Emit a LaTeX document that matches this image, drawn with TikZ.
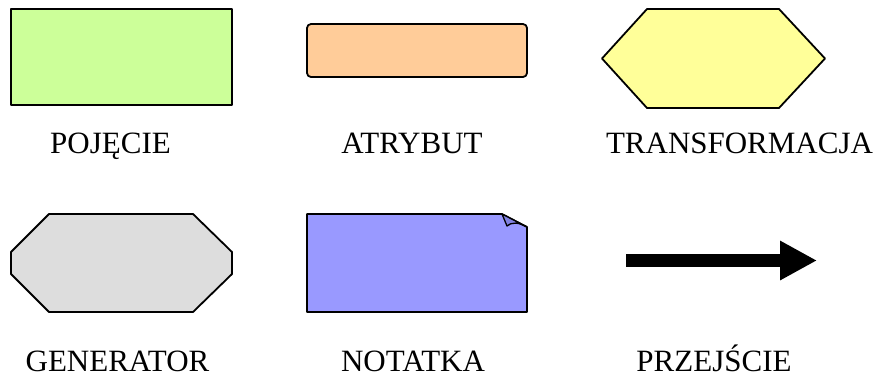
\documentclass[tikz,border=0pt]{standalone}
\usepackage{fontspec}
\setmainfont{Liberation Serif}
\usetikzlibrary{arrows.meta}
\definecolor{pojecie}{RGB}{204,255,153}
\definecolor{atrybut}{RGB}{255,204,153}
\definecolor{transf}{RGB}{255,255,153}
\definecolor{generator}{RGB}{221,221,221}
\definecolor{notatka}{RGB}{153,153,255}
\definecolor{zagiecie}{RGB}{130,130,225}
\begin{document}
\begin{tikzpicture}[x=1pt,y=-1pt,line width=1.8pt,line join=round,
    etykieta/.style={anchor=base,font=\fontsize{31}{37}\selectfont}]
    \useasboundingbox (0,0) rectangle (881,376);
    \draw[fill=pojecie] (11,9) rectangle (232,105);
    \draw[fill=atrybut, rounded corners=4pt] (307,24) rectangle (527,77);
    \draw[fill=transf] (602,58.5) -- (647,9) -- (779,9) -- (825,58.5) -- (779,108) -- (647,108) -- cycle;
    \draw[fill=generator] (11,252) -- (49,214) -- (193,214) -- (232,252) -- (232,274) -- (193,312) -- (49,312) -- (11,274) -- cycle;
    \draw[fill=notatka] (307,214) -- (502,214) -- (527,227) -- (527,312) -- (307,312) -- cycle;
    \draw[fill=zagiecie, line width=1.3pt] (502,214) -- (507,226) .. controls (511,222) and (519,222) .. (527,227) -- cycle;
    \coordinate (start) at (626,260.5);
    \coordinate (koniec) at (817,260.5);
    \draw[line width=13pt, -{Triangle[length=37pt,width=37pt]}] (start) -- (koniec);
    \node[etykieta] (l1) at (110.5,153) {POJĘCIE};
    \node[etykieta] (l2) at (412,153) {ATRYBUT};
    \node[etykieta] (l3) at (739.5,153) {TRANSFORMACJA};
    \node[etykieta] (l4) at (117.5,371) {GENERATOR};
    \node[etykieta] (l5) at (413,371) {NOTATKA};
    \node[etykieta] (l6) at (714,371) {PRZEJŚCIE};
\end{tikzpicture}
\end{document}
